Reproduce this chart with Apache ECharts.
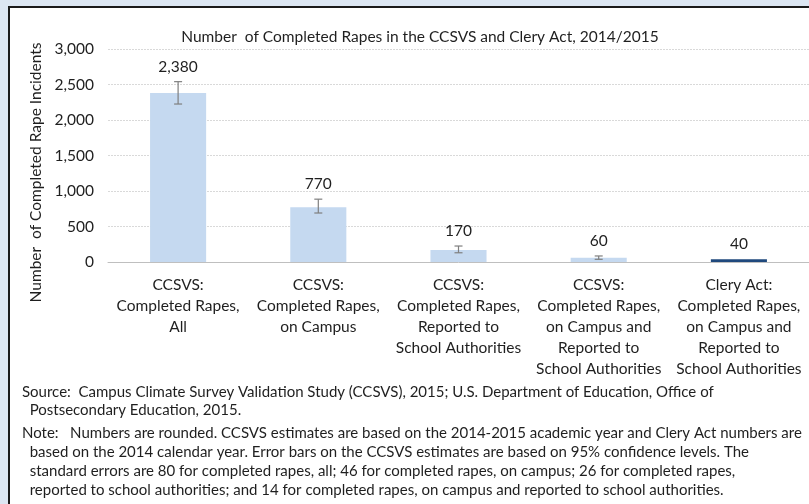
<!DOCTYPE html>
<html>
<head>
<meta charset="utf-8">
<script src="https://cdn.jsdelivr.net/npm/echarts@6/dist/echarts.min.js"></script>
<style>
  html, body { margin: 0; padding: 0; background: #dce6f2; }
  #chart { width: 809px; height: 504px; }
</style>
</head>
<body>
<div id="chart"></div>
<script>
// 数据
const categories = [
  'CCSVS:\nCompleted Rapes,\nAll',
  'CCSVS:\nCompleted Rapes,\non Campus',
  'CCSVS:\nCompleted Rapes,\nReported to\nSchool Authorities',
  'CCSVS:\nCompleted Rapes,\non Campus and\nReported to\nSchool Authorities',
  'Clery Act:\nCompleted Rapes,\non Campus and\nReported to\nSchool Authorities'
]
const values = [2380, 770, 170, 60, 40]
const errLow = [2225, 690, 130, 38, null]
const errHigh = [2540, 885, 225, 85, null]
const barColors = ['#c5d9f0', '#c5d9f0', '#c5d9f0', '#c5d9f0', '#1f497d']
const yTicks = [0, 500, 1000, 1500, 2000, 2500, 3000]

const noteLines = [
  'Source:  Campus Climate Survey Validation Study (CCSVS), 2015; U.S. Department of Education, Office of',
  '  Postsecondary Education, 2015.',
  'Note:   Numbers are rounded. CCSVS estimates are based on the 2014-2015 academic year and Clery Act numbers are',
  '  based on the 2014 calendar year. Error bars on the CCSVS estimates are based on 95% confidence levels. The',
  '  standard errors are 80 for completed rapes, all; 46 for completed rapes, on campus; 26 for completed rapes,',
  '  reported to school authorities; and 14 for completed rapes, on campus and reported to school authorities.'
]
const noteY = [394, 412, 435, 454, 473, 492]

const FONT = 'Lato'
const TEXT = '#1f1f1f'

const chart = echarts.init(document.getElementById('chart'))

const fmt = v => v.toLocaleString('en-US')

const option = {
  backgroundColor: '#dce6f2',
  animation: false,
  title: {
    text: 'Number  of Completed Rapes in the CCSVS and Clery Act, 2014/2015',
    left: 415,
    top: 24,
    textAlign: 'center',
    textStyle: { fontFamily: FONT, fontSize: 15.5, fontWeight: 'normal', color: TEXT }
  },
  grid: { left: 108, right: 0, top: 49, bottom: 242 },
  xAxis: {
    type: 'category',
    data: categories,
    axisTick: { show: false },
    axisLine: { lineStyle: { color: '#bfbfbf' } },
    axisLabel: {
      interval: 0,
      margin: 12,
      fontFamily: FONT,
      fontSize: 15.5,
      lineHeight: 21,
      color: TEXT,
      align: 'center'
    }
  },
  yAxis: {
    type: 'value',
    min: yTicks[0],
    max: yTicks[yTicks.length - 1],
    interval: 500,
    name: 'Number  of Completed Rape Incidents',
    nameLocation: 'middle',
    nameGap: 64,
    nameTextStyle: { fontFamily: FONT, fontSize: 15.5, color: TEXT, padding: [0, 34, 0, 0] },
    axisLabel: { fontFamily: FONT, fontSize: 15.5, color: TEXT, margin: 14, formatter: fmt },
    axisLine: { show: false },
    axisTick: { show: false },
    splitLine: { lineStyle: { color: '#d9d9d9', type: [2, 1] } }
  },
  series: [
    {
      type: 'bar',
      barWidth: '40%',
      data: values.map((v, i) => ({ value: v, itemStyle: { color: barColors[i] } })),
      z: 2
    },
    {
      // 误差线 + 数值标签
      type: 'custom',
      z: 3,
      data: values.map((v, i) => [i, v, errLow[i], errHigh[i]]),
      renderItem: (params, api) => {
        const i = api.value(0)
        const v = api.value(1)
        const lo = errLow[i]
        const hi = errHigh[i]
        const children = []
        let topY
        if (lo != null) {
          const pLo = api.coord([i, lo])
          const pHi = api.coord([i, hi])
          const x = pLo[0]
          const ls = { stroke: '#7f7f7f', lineWidth: 1.2 }
          children.push({ type: 'line', shape: { x1: x, y1: pLo[1], x2: x, y2: pHi[1] }, style: ls })
          children.push({ type: 'line', shape: { x1: x - 4, y1: pLo[1], x2: x + 4, y2: pLo[1] }, style: ls })
          children.push({ type: 'line', shape: { x1: x - 4, y1: pHi[1], x2: x + 4, y2: pHi[1] }, style: ls })
          topY = pHi[1]
        } else {
          topY = api.coord([i, v])[1]
        }
        const px = api.coord([i, v])[0]
        children.push({
          type: 'text',
          style: {
            x: px, y: topY - 15,
            text: fmt(v),
            align: 'center', verticalAlign: 'middle',
            font: '15.5px ' + FONT,
            fill: TEXT
          }
        })
        return { type: 'group', children }
      }
    }
  ],
  graphic: [
    {
      type: 'rect',
      z: -10,
      shape: { x: 9, y: 7, width: 820, height: 520 },
      style: { fill: '#ffffff', stroke: '#1a1a1a', lineWidth: 2 }
    },
    ...noteLines.map((t, k) => ({
      type: 'text',
      left: 22,
      top: noteY[k] - 9,
      style: { text: t, font: '15px ' + FONT, fill: TEXT }
    }))
  ]
}

chart.setOption(option)
</script>
</body>
</html>
